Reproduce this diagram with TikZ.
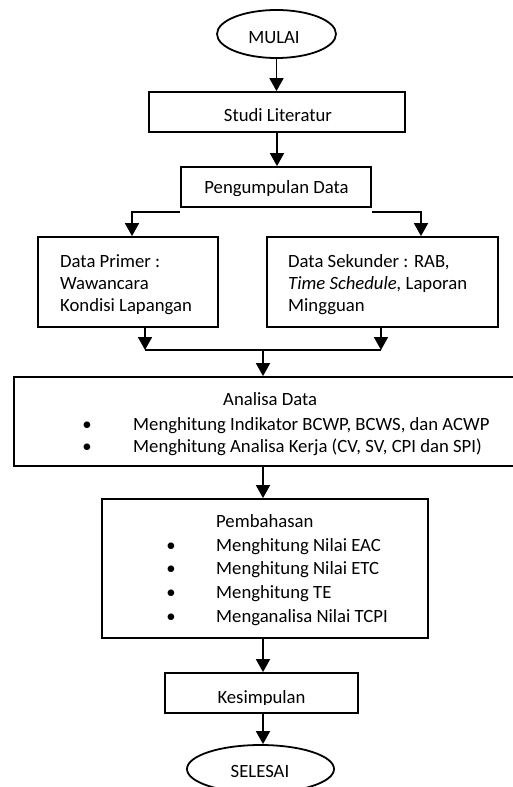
\documentclass[tikz,border=0pt]{standalone}
\usepackage{fontspec}
\setmainfont{Carlito}
\usetikzlibrary{arrows.meta,shapes.geometric}

\tikzset{
  box/.style={draw,line width=1.8pt,rectangle,inner sep=0pt},
  term/.style={draw,line width=1.8pt,ellipse,inner sep=0pt},
  flow/.style={line width=1.8pt,-{Triangle[length=13pt,width=14pt]}},
  link/.style={line width=1.8pt},
  txt/.style={inner sep=0pt,font=\fontsize{18.7}{22}\selectfont},
  mid/.style={txt,anchor=base},
  left/.style={txt,anchor=base west},
  dot/.style={txt,anchor=base},
}

\begin{document}
\begin{tikzpicture}[x=1pt,y=-1pt]
\useasboundingbox (0,0) rectangle (513,787);

% shapes
\node[term,minimum width=119pt,minimum height=48pt] (mulai) at (276.5,34) {};
\node[box,minimum width=256pt,minimum height=40pt] (studi) at (277,112) {};
\node[box,minimum width=190pt,minimum height=40pt] (kumpul) at (276,187) {};
\node[box,minimum width=180pt,minimum height=90pt] (primer) at (128,282) {};
\node[box,minimum width=231pt,minimum height=90pt] (sekunder) at (382.5,282) {};
\node[box,minimum width=516pt,minimum height=89pt] (analisa) at (272,421.5) {};
\node[box,minimum width=326pt,minimum height=139pt] (bahas) at (265,568.5) {};
\node[box,minimum width=193pt,minimum height=40pt] (simpul) at (261.5,693) {};
\node[term,minimum width=147pt,minimum height=48pt] (selesai) at (260.5,769) {};

% texts
\node[mid] (tmulai) at (274,43) {MULAI};
\node[mid] (tstudi) at (278,121) {Studi Literatur};
\begin{scope}
  \clip (181,167) rectangle (371,195.5);
  \node[mid] (tkumpul) at (276.5,193) {Pengumpulan Data};
\end{scope}
% multi-line labels: anchored on the baseline of their last line
\node[left,align=left] (tprimer) at (60,311) {Data Primer :\\Wawancara\\Kondisi Lapangan};
\node[left,align=left] (tsekunder) at (288,311) {Data Sekunder : RAB,\\\textit{Time Schedule,} Laporan\\Mingguan};

\node[left] (tanalisa) at (223,405) {Analisa Data};
\node[dot] (ba1) at (87,430) {•};
\node[left] (ta1) at (133,430) {Menghitung Indikator BCWP, BCWS, dan ACWP};
\node[dot] (ba2) at (87,452) {•};
\node[left] (ta2) at (133,452) {Menghitung Analisa Kerja (CV, SV, CPI dan SPI)};

\node[left] (tbahas) at (216,527) {Pembahasan};
\node[dot] (bb1) at (171,551) {•};
\node[left] (tb1) at (216,551) {Menghitung Nilai EAC};
\node[dot] (bb2) at (171,574) {•};
\node[left] (tb2) at (216,574) {Menghitung Nilai ETC};
\node[dot] (bb3) at (171,598) {•};
\node[left] (tb3) at (216,598) {Menghitung TE};
\node[dot] (bb4) at (171,622) {•};
\node[left] (tb4) at (216,622) {Menganalisa Nilai TCPI};

\begin{scope}
  \clip (165,673) rectangle (358,704.5);
  \node[mid] (tsimpul) at (261.5,703) {Kesimpulan};
\end{scope}
\node[mid] (tselesai) at (260,777) {SELESAI};

% connectors
\draw[flow] (mulai.south) -- (mulai.south |- studi.north);
\draw[flow] (studi.south) -- (studi.south |- kumpul.north);
\draw[flow] ([yshift=-4pt]kumpul.south west) -| ([xshift=4pt]primer.north);
\draw[flow] ([yshift=-4pt]kumpul.south east) -| ([xshift=38.5pt]sekunder.north);

\coordinate (j1) at (145,350);
\coordinate (j2) at (381,350);
\coordinate (j3) at (263,350);
\draw[flow] (primer.south -| j1) -- (j1);
\draw[flow] (sekunder.south -| j2) -- (j2);
\draw[link] (j1) -- (j2);
\draw[flow] (j3) -- (j3 |- analisa.north);

\coordinate (k1) at (263,500);
\draw[flow] (analisa.south -| k1) -- (bahas.north -| k1);
\draw[flow] (bahas.south -| k1) -- (simpul.north -| k1);
\draw[flow] (simpul.south -| k1) -- (selesai.north -| k1);
\end{tikzpicture}
\end{document}
